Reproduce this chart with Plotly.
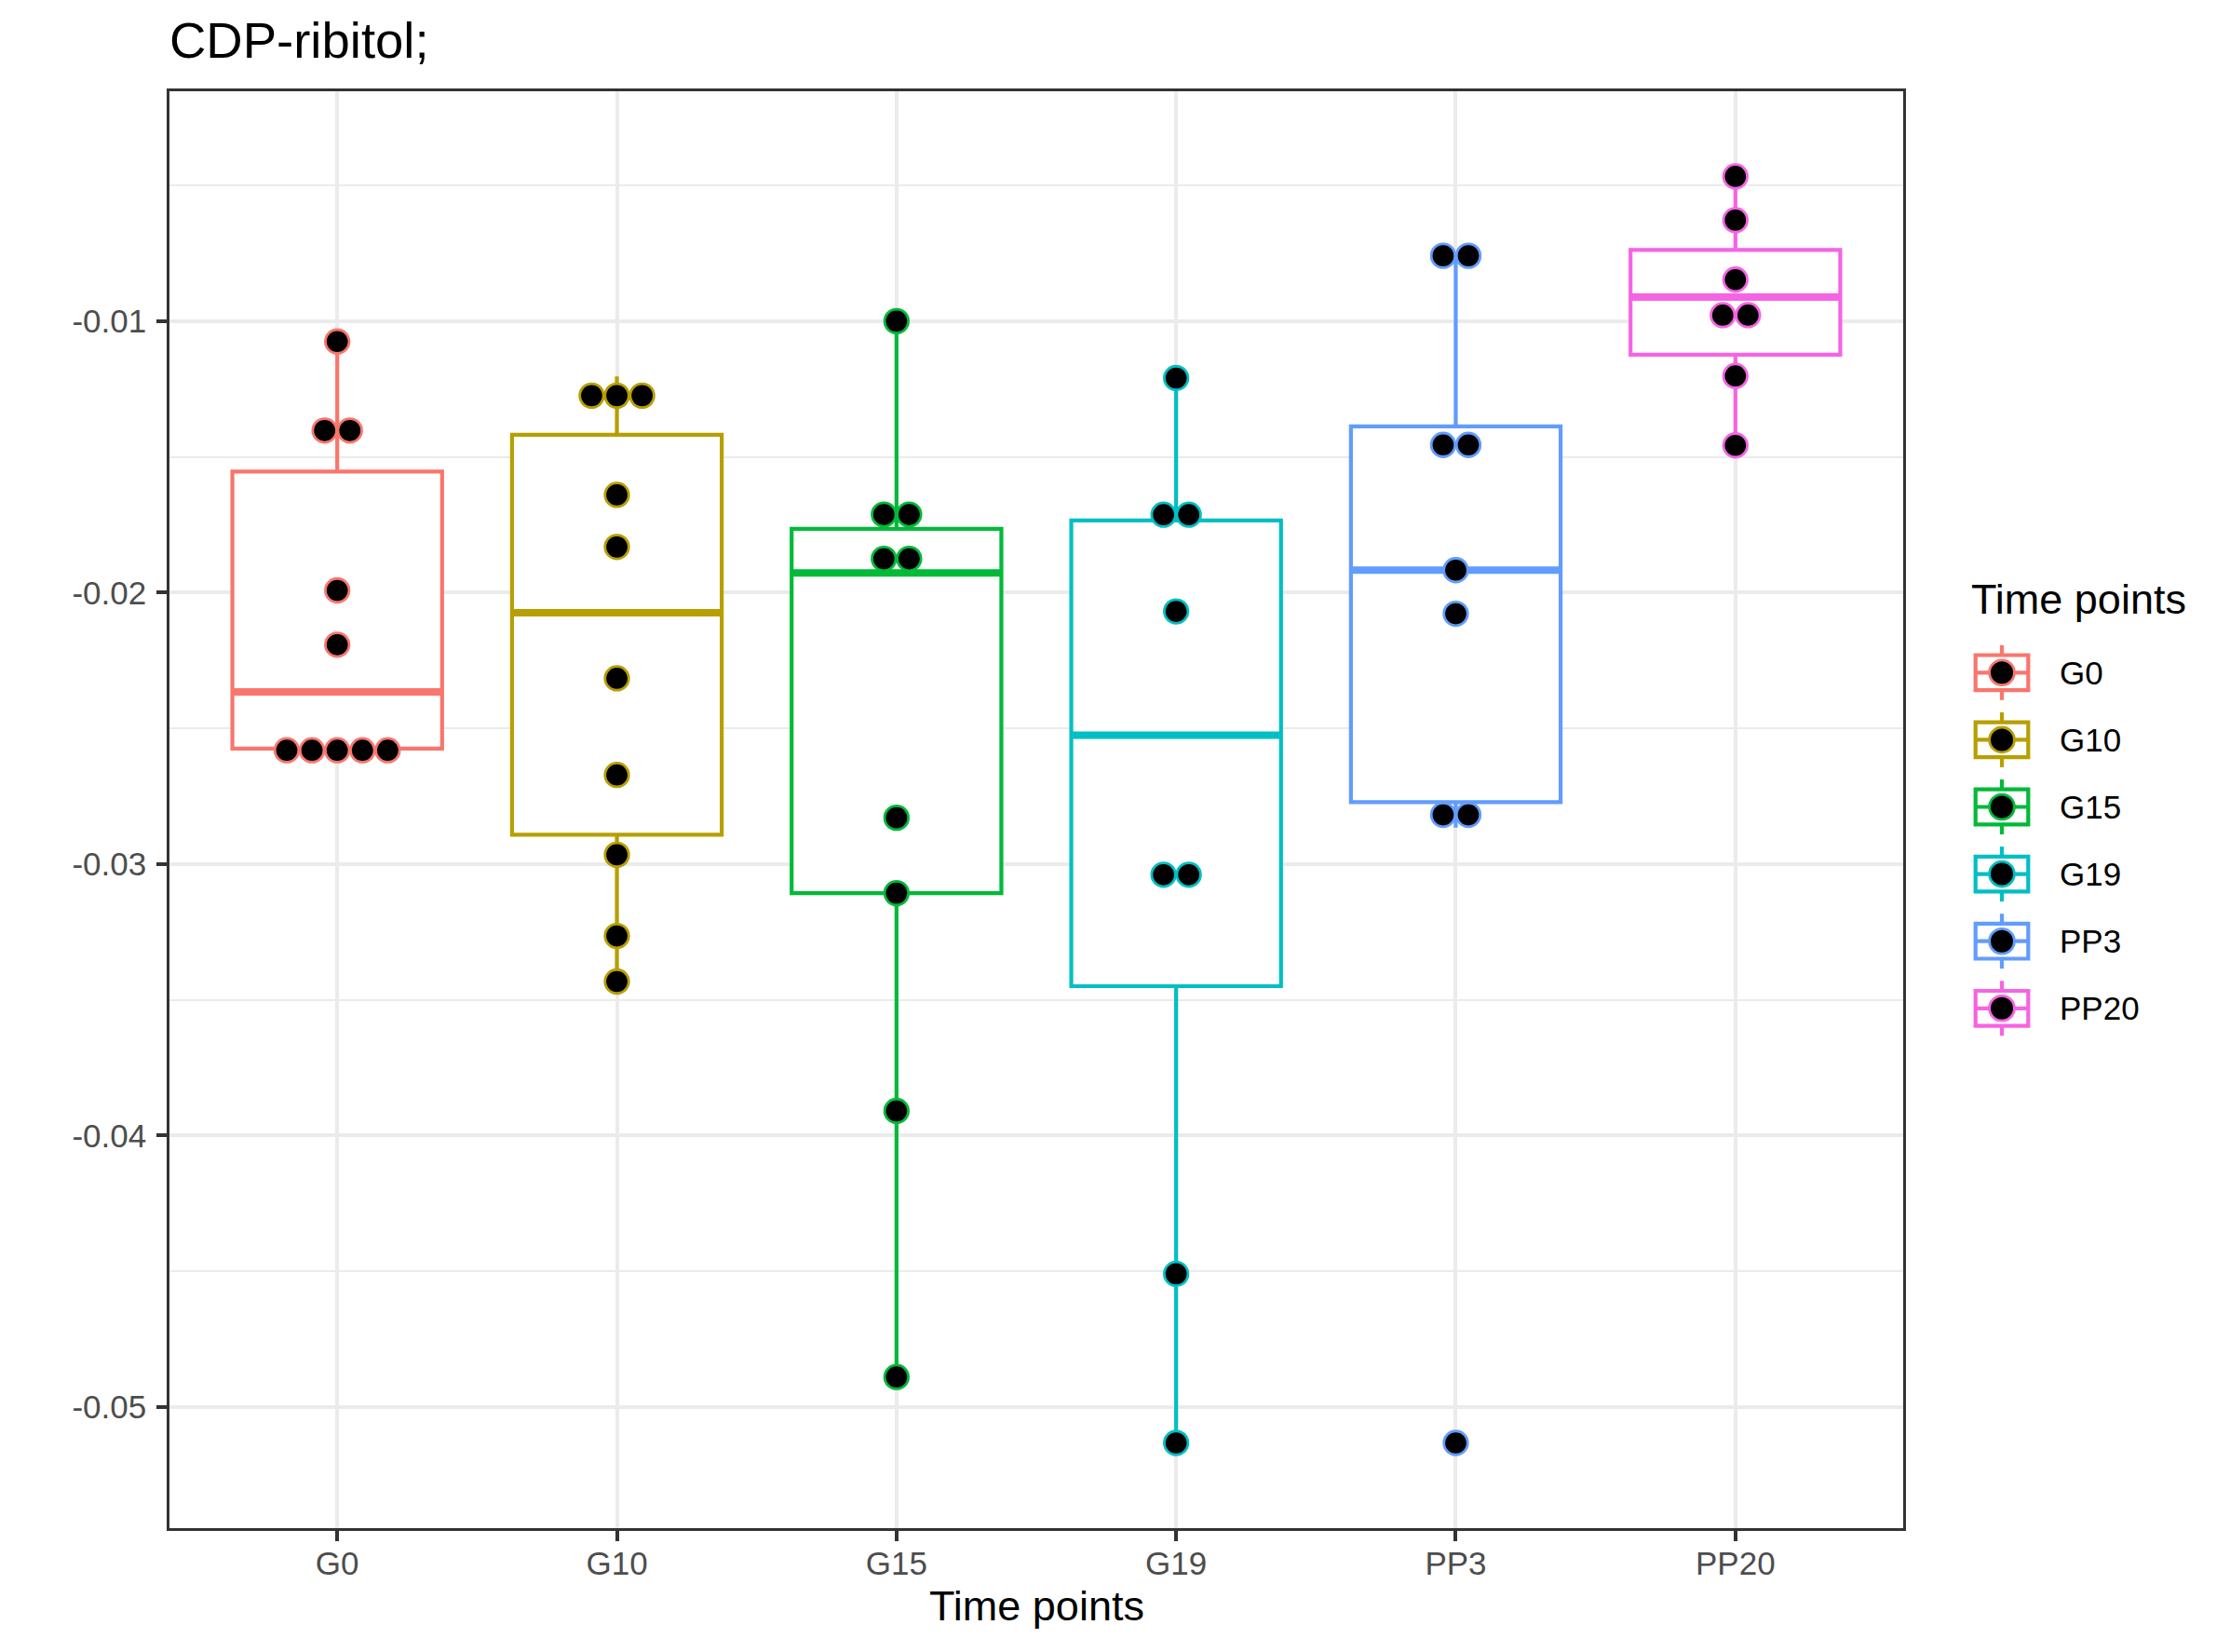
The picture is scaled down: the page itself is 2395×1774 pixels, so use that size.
import numpy as np
import plotly.graph_objects as go

# ---------------- data ----------------
categories = ["G0", "G10", "G15", "G19", "PP3", "PP20"]
g0 = [-0.02622, -0.02600, -0.02580, -0.02560, -0.02540, -0.02192, -0.01992, -0.01408, -0.01398, -0.01075]
g10 = [-0.03433, -0.03265, -0.02966, -0.02672, -0.02316, -0.01832, -0.01640, -0.01345, -0.01280, -0.01204]
g15 = [-0.04890, -0.03910, -0.031075, -0.028296, -0.01928, -0.01823, -0.01765, -0.01660, -0.01000]
g19 = [-0.05133, -0.04510, -0.03097, -0.02982, -0.020695, -0.01755, -0.01671, -0.012097]
pp3 = [-0.05133, -0.02866, -0.02772, -0.02078, -0.019174, -0.01524, -0.013879, -0.00768, -0.00750]
pp20 = [-0.014577, -0.012018, -0.010446, -0.009114, -0.008469, -0.006278, -0.004668]
series = [g0, g10, g15, g19, pp3, pp20]
colors = ["#F8766D", "#B79F00", "#00BA38", "#00BFC4", "#619CFF", "#F564E3"]
y_ticks = [-0.05, -0.04, -0.03, -0.02, -0.01]
y_tick_labels = ["-0.05", "-0.04", "-0.03", "-0.02", "-0.01"]
y_minor = [-0.055, -0.045, -0.035, -0.025, -0.015, -0.005]

# ---------------- layout constants ----------------
W, H = 2395, 1774
PL, PT, PW, PH = 182, 98, 1862, 1543
X_RANGE = [-0.6, 5.6]
Y_RANGE = [-0.05447, -0.00153]
FONT = "Liberation Sans, Arial, Helvetica, sans-serif"
BOX_W = 0.75
BOX_LW = 4.2
MED_LW = 8
DOT_PX = 25.5
DOT_LW = 2.8
DOT_SPACING = 27.1 / (PW / (X_RANGE[1] - X_RANGE[0]))


def px_x(px):
    return (px - PL) / PW


def px_y(py):
    return 1 - (py - PT) / PH


# ggplot-like dotdensity binning
all_vals = np.concatenate([np.asarray(s) for s in series])
binwidth = (all_vals.max() - all_vals.min()) / 30.0


def dot_bins(vals, bw):
    v = sorted(vals)
    bins = []
    i = 0
    while i < len(v):
        start = v[i]
        j = i
        while j + 1 < len(v) and v[j + 1] < start + bw:
            j += 1
        grp = v[i:j + 1]
        bins.append(((grp[0] + grp[-1]) / 2.0, len(grp)))
        i = j + 1
    return bins


fig = go.Figure()

# boxes
for i, (vals, col) in enumerate(zip(series, colors)):
    a = np.asarray(vals)
    q1, med, q3 = np.percentile(a, [25, 50, 75])
    iqr = q3 - q1
    lf = a[a >= q1 - 1.5 * iqr].min()
    uf = a[a <= q3 + 1.5 * iqr].max()
    fig.add_trace(go.Box(
        x=[i], q1=[q1], median=[med], q3=[q3], lowerfence=[lf], upperfence=[uf],
        width=BOX_W, whiskerwidth=0, boxpoints=False,
        line=dict(color=col, width=BOX_LW), fillcolor="white",
        showlegend=False, hoverinfo="skip",
    ))

# thick median lines
for i, (vals, col) in enumerate(zip(series, colors)):
    med = float(np.median(vals))
    fig.add_trace(go.Scatter(
        x=[i - BOX_W / 2, i + BOX_W / 2], y=[med, med], mode="lines",
        line=dict(color=col, width=MED_LW), showlegend=False, hoverinfo="skip",
    ))

# dots
for i, (vals, col) in enumerate(zip(series, colors)):
    xs, ys = [], []
    for center, n in dot_bins(vals, binwidth):
        for k in range(n):
            xs.append(i + (k - (n - 1) / 2.0) * DOT_SPACING)
            ys.append(center)
    fig.add_trace(go.Scatter(
        x=xs, y=ys, mode="markers",
        marker=dict(size=DOT_PX, color="black", line=dict(color=col, width=DOT_LW)),
        showlegend=False, hoverinfo="skip", cliponaxis=False,
    ))

# ---------------- manual legend ----------------
shapes = []
annotations = []
LEG_X = 2150
LEG_Y0 = 722.3
LEG_DY = 72.1
for k, (cat, col) in enumerate(zip(categories, colors)):
    cy = LEG_Y0 + k * LEG_DY
    shapes.append(dict(type="line", xref="paper", yref="paper",
                       x0=px_x(LEG_X), x1=px_x(LEG_X), y0=px_y(cy - 29.5), y1=px_y(cy + 29.5),
                       line=dict(color=col, width=BOX_LW)))
    shapes.append(dict(type="rect", xref="paper", yref="paper",
                       x0=px_x(LEG_X - 28.3), x1=px_x(LEG_X + 28.3),
                       y0=px_y(cy - 18.8), y1=px_y(cy + 18.8),
                       fillcolor="white", line=dict(color=col, width=BOX_LW)))
    shapes.append(dict(type="line", xref="paper", yref="paper",
                       x0=px_x(LEG_X - 28.3), x1=px_x(LEG_X + 28.3), y0=px_y(cy), y1=px_y(cy),
                       line=dict(color=col, width=BOX_LW)))
    shapes.append(dict(type="circle", xref="paper", yref="paper",
                       x0=px_x(LEG_X - 13.4), x1=px_x(LEG_X + 13.4),
                       y0=px_y(cy - 13.4), y1=px_y(cy + 13.4),
                       fillcolor="black", line=dict(color=col, width=2.8)))
    annotations.append(dict(text=cat, xref="paper", yref="paper", x=px_x(2210), y=px_y(cy),
                            xanchor="left", yanchor="middle", showarrow=False,
                            font=dict(family=FONT, size=35, color="black")))

annotations.append(dict(text="Time points", xref="paper", yref="paper", x=px_x(2115), y=px_y(643),
                        xanchor="left", yanchor="middle", showarrow=False,
                        font=dict(family=FONT, size=45, color="black")))
annotations.append(dict(text="Time points", xref="paper", yref="paper", x=0.5, y=px_y(1724),
                        xanchor="center", yanchor="middle", showarrow=False,
                        font=dict(family=FONT, size=45, color="black")))

axis_common = dict(
    showline=True, mirror=True, linecolor="#333333", linewidth=2.5,
    ticks="outside", ticklen=11, tickwidth=4.4, tickcolor="#333333",
    showgrid=True, gridcolor="#EBEBEB", gridwidth=4, zeroline=False,
    tickfont=dict(family=FONT, size=35, color="#4D4D4D"),
)

fig.update_layout(
    width=W, height=H,
    margin=dict(l=PL, r=W - PL - PW, t=PT, b=H - PT - PH),
    paper_bgcolor="white", plot_bgcolor="white",
    showlegend=False,
    title=dict(text="CDP-ribitol;", x=PL / W, xref="container",
               xanchor="left", y=1 - 43 / H, yref="container", yanchor="middle",
               font=dict(family=FONT, size=54.5, color="black")),
    xaxis=dict(range=X_RANGE, tickvals=list(range(len(categories))), ticktext=categories,
               ticklabelstandoff=-6, **axis_common),
    yaxis=dict(range=Y_RANGE, tickvals=y_ticks, ticktext=y_tick_labels,
               ticklabelstandoff=4,
               minor=dict(tickvals=y_minor, showgrid=True, gridcolor="#EBEBEB", gridwidth=2, ticks=""),
               **axis_common),
    shapes=shapes,
    annotations=annotations,
)

fig.write_html("out.html", config={"displayModeBar": False},
               post_script="document.body.style.margin='0';")
